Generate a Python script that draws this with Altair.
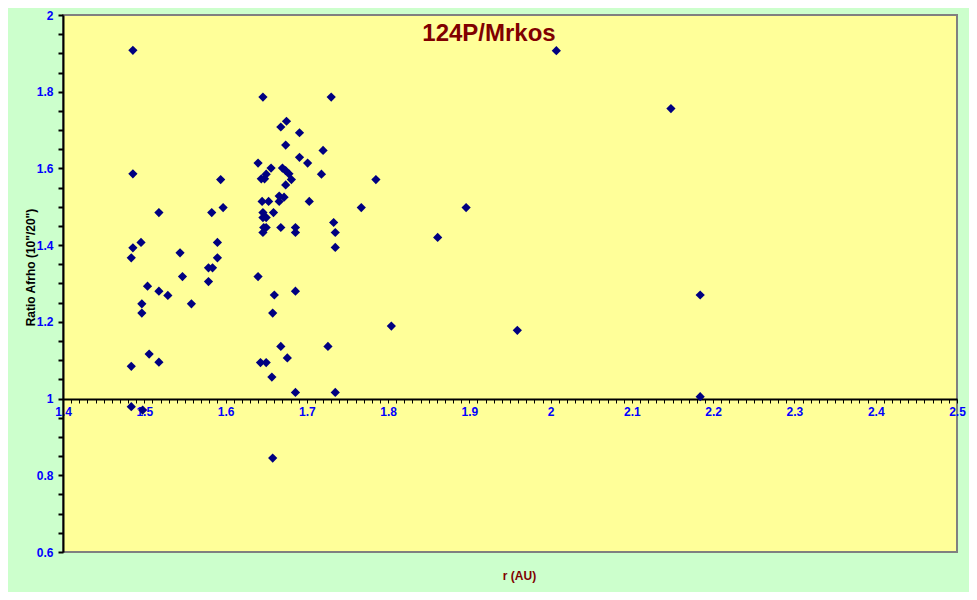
import altair as alt
import pandas as pd

# r (AU)
r_au = [
    1.486, 1.486, 1.594, 1.597, 1.518, 1.583, 1.496, 1.486, 1.484, 1.590,
    1.544, 1.590, 1.579, 1.584, 1.547, 1.579, 1.504, 1.518, 1.529, 1.497,
    1.558, 1.497, 1.506, 1.518, 1.484, 1.484, 1.498,
    1.646, 1.730, 1.675, 1.668, 1.691, 1.674, 1.720, 1.691, 1.640, 1.701,
    1.656, 1.670, 1.674, 1.718, 1.650, 1.678, 1.644, 1.648, 1.681, 1.674,
    1.666, 1.672, 1.645, 1.653, 1.666, 1.703, 1.659, 1.646, 1.646, 1.650,
    1.733, 1.735, 1.735, 1.647, 1.650, 1.646, 1.668, 1.686, 1.686, 1.640,
    1.660, 1.686, 1.658, 1.668, 1.726, 1.676, 1.643, 1.650, 1.657, 1.686,
    1.735, 1.658,
    1.785, 1.767, 1.896, 1.861, 1.804, 1.959, 2.007, 2.148, 2.184, 2.184,
]
# Ratio Afrho (10"/20")
ratio = [
    1.908, 1.586, 1.571, 1.498, 1.485, 1.485, 1.407, 1.393, 1.367, 1.407,
    1.380, 1.367, 1.341, 1.341, 1.318, 1.305, 1.293, 1.280, 1.269, 1.247,
    1.247, 1.223, 1.116, 1.095, 1.084, 0.979, 0.970,
    1.786, 1.786, 1.723, 1.708, 1.693, 1.661, 1.647, 1.629, 1.614, 1.614,
    1.601, 1.601, 1.594, 1.585, 1.585, 1.586, 1.573, 1.573, 1.571, 1.557,
    1.528, 1.525, 1.514, 1.514, 1.514, 1.514, 1.485, 1.485, 1.472, 1.472,
    1.459, 1.433, 1.394, 1.446, 1.446, 1.433, 1.446, 1.446, 1.433, 1.318,
    1.270, 1.280, 1.223, 1.136, 1.136, 1.106, 1.094, 1.094, 1.056, 1.016,
    1.016, 0.845,
    1.571, 1.498, 1.498, 1.420, 1.189, 1.178, 1.907, 1.756, 1.270, 1.005,
]

x_ticks = [round(1.4 + i * 0.01, 2) for i in range(111)]
y_ticks = [round(0.6 + i * 0.05, 2) for i in range(29)]

df = pd.DataFrame({"r": r_au, "ratio": ratio})

FONT = "Liberation Sans"

chart = alt.Chart(df).mark_point(
    shape="diamond", filled=True, color="#000080", size=85, opacity=1
).encode(
    x=alt.X(
        "r:Q",
        scale=alt.Scale(domain=[1.4, 2.5], nice=False, zero=False),
        axis=alt.Axis(
            title="r (AU)",
            titleColor="#800000",
            titleFont=FONT,
            titleFontSize=12,
            titleFontWeight="bold",
            titleX=456,
            titleY=176,
            titleBaseline="middle",
            titleAlign="center",
            offset=-153,
            values=x_ticks,
            labelExpr="round(datum.value*100)%10==0 ? format(datum.value,'~g') : ''",
            labelColor="#0000ff",
            labelFont=FONT,
            labelFontSize=12,
            labelFontWeight="bold",
            labelFlush=False,
            labelOverlap=False,
            labelBound=False,
            labelPadding=3,
            tickColor="black",
            tickSize=4,
            tickWidth=1,
            domainColor="black",
            domainWidth=2,
            grid=False,
        ),
    ),
    y=alt.Y(
        "ratio:Q",
        scale=alt.Scale(domain=[0.6, 2.0], nice=False, zero=False),
        axis=alt.Axis(
            title="Ratio Afrho  (10\"/20\")",
            titleColor="black",
            titleFont=FONT,
            titleFontSize=12,
            titleFontWeight="bold",
            titleX=-33,
            titleY=252,
            titleBaseline="middle",
            titleAlign="center",
            titleAngle=-90,
            values=y_ticks,
            labelExpr="round(datum.value*20)%4==0 ? format(datum.value,'~g') : ''",
            labelColor="#0000ff",
            labelFont=FONT,
            labelFontSize=12,
            labelFontWeight="bold",
            labelOverlap=False,
            labelBound=False,
            labelFlush=False,
            labelPadding=5,
            tickColor="black",
            tickSize=5,
            tickWidth=2,
            domainColor="black",
            domainWidth=2,
            grid=False,
        ),
    ),
).properties(
    width=894,
    height=537,
    autosize="none",
    padding={"left": 55, "top": 7, "right": 12, "bottom": 40},
    background="#ccffcc",
    title=alt.TitleParams(
        text="124P/Mrkos",
        font=FONT,
        fontSize=24,
        fontWeight="bold",
        color="#800000",
        anchor="middle",
        dx=-21,
        offset=-56,
        baseline="alphabetic",
    ),
).configure_view(
    fill="#ffff99",
    stroke="#808080",
    strokeWidth=2,
)

chart.save("out.html", embed_options={"renderer": "svg", "actions": False})
